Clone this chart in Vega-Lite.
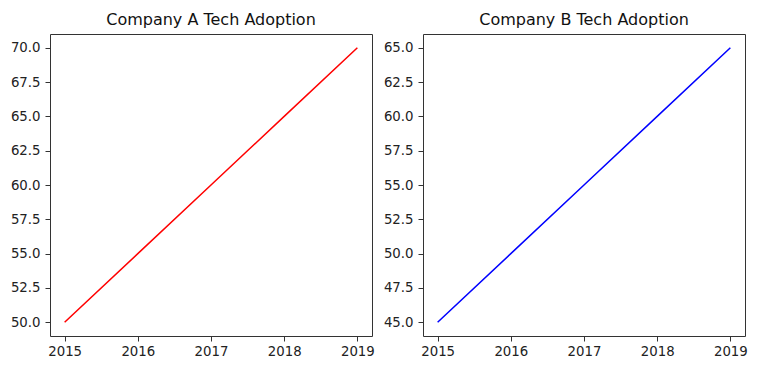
{
  "$schema": "https://vega.github.io/schema/vega-lite/v6.json",
  "padding": {"left": 9, "top": 11, "right": 5, "bottom": 5},
  "background": "white",
  "datasets": {
    "a": [
      {"year": 2015, "adoption": 50},
      {"year": 2016, "adoption": 55},
      {"year": 2017, "adoption": 60},
      {"year": 2018, "adoption": 65},
      {"year": 2019, "adoption": 70}
    ],
    "b": [
      {"year": 2015, "adoption": 45},
      {"year": 2016, "adoption": 50},
      {"year": 2017, "adoption": 55},
      {"year": 2018, "adoption": 60},
      {"year": 2019, "adoption": 65}
    ]
  },
  "config": {
    "font": "DejaVu Sans",
    "view": {"stroke": "#333333", "strokeWidth": 1},
    "axis": {
      "grid": false,
      "domain": false,
      "tickColor": "#333333",
      "tickSize": 5,
      "tickWidth": 1,
      "labelFont": "DejaVu Sans",
      "labelFontSize": 13.3,
      "labelColor": "#222222",
      "title": null
    },
    "title": {
      "font": "DejaVu Sans",
      "fontSize": 16,
      "fontWeight": "normal",
      "color": "#111111",
      "anchor": "middle",
      "baseline": "alphabetic",
      "offset": 6
    },
    "concat": {"spacing": 51}
  },
  "bounds": "flush",
  "hconcat": [
    {
      "title": "Company A Tech Adoption",
      "width": 322,
      "height": 302,
      "data": {"name": "a"},
      "mark": {"type": "line", "color": "red", "strokeWidth": 1.5},
      "encoding": {
        "x": {
          "field": "year", "type": "quantitative",
          "scale": {"domain": [2014.8, 2019.2], "nice": false, "zero": false},
          "axis": {"values": [2015, 2016, 2017, 2018, 2019], "format": "d", "labelPadding": 3}
        },
        "y": {
          "field": "adoption", "type": "quantitative",
          "scale": {"domain": [49, 71], "nice": false, "zero": false},
          "axis": {"values": [50, 52.5, 55, 57.5, 60, 62.5, 65, 67.5, 70], "format": ".1f", "labelPadding": 5}
        }
      }
    },
    {
      "title": "Company B Tech Adoption",
      "width": 322,
      "height": 302,
      "data": {"name": "b"},
      "mark": {"type": "line", "color": "blue", "strokeWidth": 1.5},
      "encoding": {
        "x": {
          "field": "year", "type": "quantitative",
          "scale": {"domain": [2014.8, 2019.2], "nice": false, "zero": false},
          "axis": {"values": [2015, 2016, 2017, 2018, 2019], "format": "d", "labelPadding": 3}
        },
        "y": {
          "field": "adoption", "type": "quantitative",
          "scale": {"domain": [44, 66], "nice": false, "zero": false},
          "axis": {"values": [45, 47.5, 50, 52.5, 55, 57.5, 60, 62.5, 65], "format": ".1f", "labelPadding": 5}
        }
      }
    }
  ]
}
